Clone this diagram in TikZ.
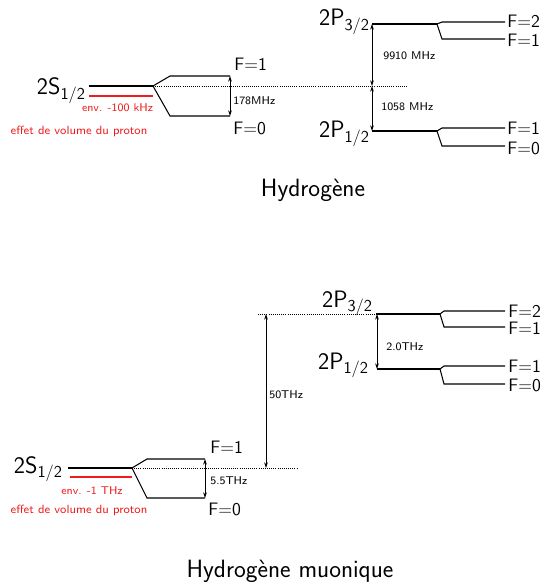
\documentclass[tikz,border=0pt]{standalone}
\usepackage{tikz}
\usetikzlibrary{arrows.meta}
\definecolor{volcol}{HTML}{EE1C1C}

\begin{document}
\begin{tikzpicture}[x=0.025cm, y=-0.025cm, font=\sffamily, >={Stealth[length=4pt,width=2.6pt]},
  lvl/.style={line width=2pt},
  hfs/.style={line width=0.75pt},
  ref/.style={densely dotted, line width=0.5pt},
  gap/.style={<->, line width=0.5pt},
  vol/.style={volcol, line width=1.4pt},
  biglab/.style={font=\sffamily\fontsize{16.9}{19}\selectfont, inner sep=0pt},
  titlelab/.style={font=\sffamily\fontsize{17.8}{20}\selectfont, inner sep=0pt},
  flab/.style={font=\sffamily\fontsize{12.8}{15}\selectfont, anchor=west, inner sep=0pt},
  freq/.style={font=\sffamily\fontsize{8}{10}\selectfont, anchor=west, inner sep=0pt},
  volsmall/.style={volcol, font=\sffamily\fontsize{8}{10}\selectfont, inner sep=0pt},
  voltext/.style={volcol, font=\sffamily\fontsize{8.45}{10}\selectfont, inner sep=0pt}]
\useasboundingbox (0,0) rectangle (547,582);

% Hydrogene: 2S1/2 and its hyperfine pair
\coordinate (hS0) at (89,86);
\coordinate (hS1) at (153,86);
\coordinate (hSa) at (170,76);
\coordinate (hSb) at (230,76);
\coordinate (hSc) at (170,116);
\coordinate (hSd) at (230,116);
\draw[lvl] (hS0) -- (hS1);
\draw[hfs] (hS1) -- (hSa) -- (hSb);
\draw[hfs] (hS1) -- (hSc) -- (hSd);
\draw[gap] (hSb) -- (hSd);
\coordinate (hR0) at (89,96);
\coordinate (hR1) at (153,96);
\draw[vol] (hR0) -- (hR1);
\node[biglab, anchor=base east] (hSlab) at (86,95) {2S\textsubscript{1/2}};
\node[volsmall] (hVsh) at (117.5,108) {env. -100 kHz};
\node[voltext] (hVtx) at (79,131) {effet de volume du proton};
\node[flab] (hF1) at (234,64) {F=1};
\node[flab] (hF0) at (233,128) {F=0};
\node[freq] (hHfs) at (233,101) {178MHz};

% dotted reference at the 2S level
\coordinate (hD) at (408,86);
\coordinate (hM) at (372,86);
\draw[ref] (hS1) -- (hD);

% 2P3/2
\coordinate (hP0) at (372,24);
\coordinate (hP1) at (437,24);
\coordinate (hPa) at (442,22);
\coordinate (hPb) at (505,22);
\coordinate (hPc) at (442,39);
\coordinate (hPd) at (505,39);
\draw[lvl] (hP0) -- (hP1);
\draw[hfs] (hP1) -- (hPa) -- (hPb);
\draw[hfs] (hP1) -- (hPc) -- (hPd);
\node[biglab, anchor=base east] (hPlab) at (370,26) {2P\textsubscript{3/2}};
\node[flab] (hF2p) at (507,21.5) {F=2};
\node[flab] (hF1p) at (507,40) {F=1};

% 2P1/2
\coordinate (hQ0) at (372,131);
\coordinate (hQ1) at (437,131);
\coordinate (hQa) at (442,128);
\coordinate (hQb) at (505,128);
\coordinate (hQc) at (442,146);
\coordinate (hQd) at (505,146);
\draw[lvl] (hQ0) -- (hQ1);
\draw[hfs] (hQ1) -- (hQa) -- (hQb);
\draw[hfs] (hQ1) -- (hQc) -- (hQd);
\node[biglab, anchor=base east] (hQlab) at (370,138) {2P\textsubscript{1/2}};
\node[flab] (hF1q) at (507,128) {F=1};
\node[flab] (hF0q) at (507,148) {F=0};

% fine structure and Lamb shift
\draw[gap] (hP0) -- (hM);
\draw[gap] (hM) -- (hQ0);
\node[freq] (hFs) at (383,56) {9910 MHz};
\node[freq] (hLamb) at (381,107) {1058 MHz};
\node[titlelab, anchor=base] (hTitle) at (313,197) {Hydrog\`ene};

% Hydrogene muonique: 2S1/2
\coordinate (mS0) at (68,468);
\coordinate (mS1) at (132,468);
\coordinate (mSa) at (147,459);
\coordinate (mSb) at (205,459);
\coordinate (mSc) at (147,498);
\coordinate (mSd) at (205,498);
\draw[lvl] (mS0) -- (mS1);
\draw[hfs] (mS1) -- (mSa) -- (mSb);
\draw[hfs] (mS1) -- (mSc) -- (mSd);
\draw[gap] (mSb) -- (mSd);
\coordinate (mR0) at (70,477);
\coordinate (mR1) at (132,477);
\draw[vol] (mR0) -- (mR1);
\node[biglab, anchor=base east] (mSlab) at (63,473) {2S\textsubscript{1/2}};
\node[volsmall] (mVsh) at (92,491) {env. -1 THz};
\node[voltext] (mVtx) at (79,510) {effet de volume du proton};
\node[flab] (mF1) at (210,447) {F=1};
\node[flab] (mF0) at (208,509) {F=0};
\node[freq] (mHfs) at (210,481) {5.5THz};

% dotted references
\coordinate (mD) at (297,468);
\coordinate (mM) at (266,468);
\coordinate (mT) at (266,314);
\coordinate (mT0) at (258,314);
\draw[ref] (mS1) -- (mD);

% 2P3/2
\coordinate (mP0) at (376,314);
\coordinate (mP1) at (440,314);
\coordinate (mPa) at (444,311);
\coordinate (mPb) at (505,311);
\coordinate (mPc) at (444,327);
\coordinate (mPd) at (505,327);
\draw[ref] (mT0) -- (mP0);
\draw[lvl] (mP0) -- (mP1);
\draw[hfs] (mP1) -- (mPa) -- (mPb);
\draw[hfs] (mP1) -- (mPc) -- (mPd);
\node[biglab, anchor=base east] (mPlab) at (373,307) {2P\textsubscript{3/2}};
\node[flab] (mF2p) at (508,311) {F=2};
\node[flab] (mF1p) at (508,328.5) {F=1};

% 2P1/2
\coordinate (mQ0) at (377,369);
\coordinate (mQ1) at (440,369);
\coordinate (mQa) at (444,366);
\coordinate (mQb) at (505,366);
\coordinate (mQc) at (444,384);
\coordinate (mQd) at (505,384);
\draw[lvl] (mQ0) -- (mQ1);
\draw[hfs] (mQ1) -- (mQa) -- (mQb);
\draw[hfs] (mQ1) -- (mQc) -- (mQd);
\node[biglab, anchor=base east] (mQlab) at (369,369) {2P\textsubscript{1/2}};
\node[flab] (mF1q) at (508,366.5) {F=1};
\node[flab] (mF0q) at (508,385) {F=0};

% fine structure and Lamb shift
\coordinate (mPt) at (377,314);
\draw[gap] (mPt) -- (mQ0);
\draw[gap] (mT) -- (mM);
\node[freq] (mFs) at (386,347) {2.0THz};
\node[freq] (mLamb) at (269,395) {50THz};
\node[titlelab, anchor=base] (mTitle) at (290,577) {Hydrog\`ene muonique};
\end{tikzpicture}
\end{document}
